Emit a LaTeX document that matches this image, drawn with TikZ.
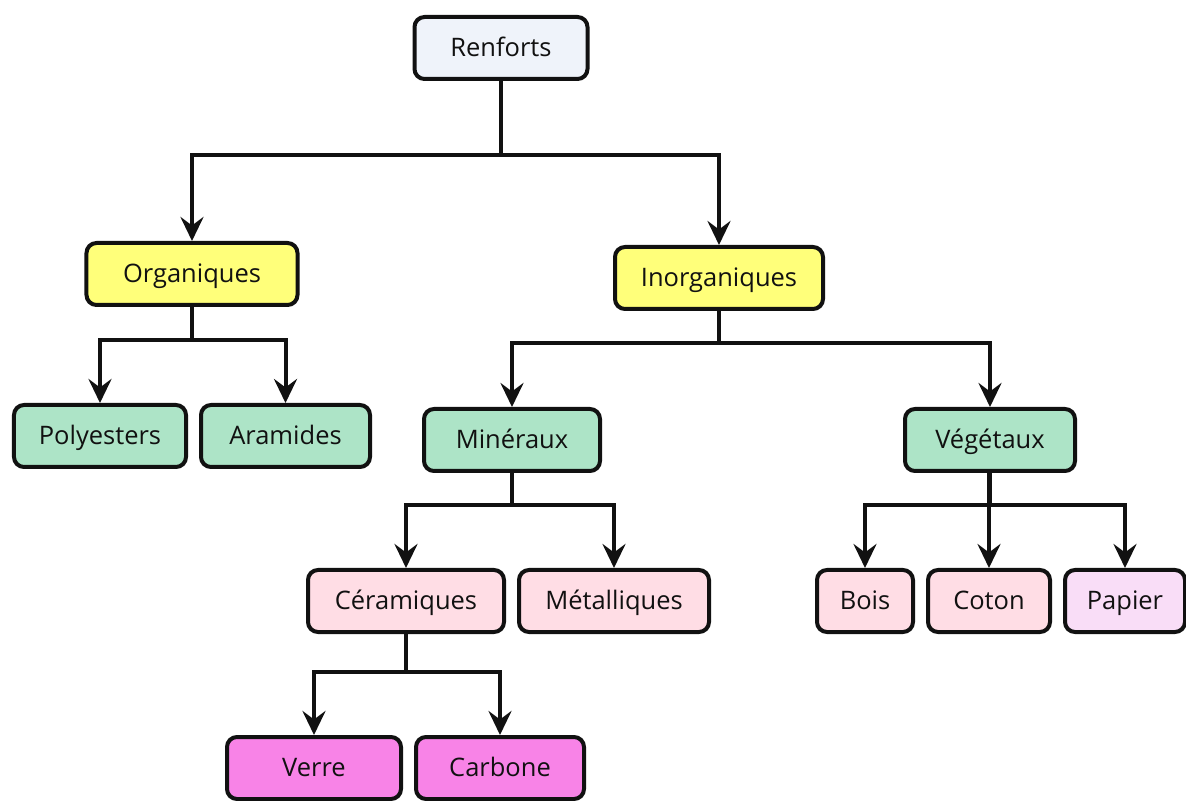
\documentclass[tikz,border=0pt]{standalone}
\usepackage{fontspec}
\setmainfont{Open Sans}
\usepackage{tikz}
\usetikzlibrary{arrows.meta,positioning}
\usepackage{xcolor}
\definecolor{Ink}{HTML}{111111}
\definecolor{Top}{HTML}{EFF3FA}
\definecolor{Yel}{HTML}{FFFF7A}
\definecolor{Grn}{HTML}{ADE4C7}
\definecolor{Pnk}{HTML}{FFDDE5}
\definecolor{Lil}{HTML}{F9DDF7}
\definecolor{Mag}{HTML}{F883E7}
\begin{document}
\begin{tikzpicture}[x=0.2mm,y=-0.2mm,node distance=2.2mm, b/.style={draw=Ink,text=Ink,line width=0.8mm,rounded corners=2mm,minimum height=12.4mm,text height=2.3ex,text depth=0.5ex,align=center,font=\fontsize{14.5}{17}\selectfont}, a/.style={-{Stealth[length=4.8mm,width=4.6mm,inset=1.7mm]},line width=0.8mm,draw=Ink}]
    \useasboundingbox (0,0) rectangle (1186,801);
    \node[b,fill=Top,minimum width=34.6mm] (r) at (501,48) {Renforts};
    \node[b,fill=Yel,minimum width=42.2mm] (o) at (192,274) {Organiques}; \node[b,fill=Yel,minimum width=41.6mm] (i) at (719,278) {Inorganiques};
    \node[b,fill=Grn,minimum width=34.4mm] (p) at (100,436) {Polyesters}; \node[b,fill=Grn,minimum width=33.8mm,right=of p] (ar) {Aramides};
    \node[b,fill=Grn,minimum width=35.2mm] (m) at (512,440) {Minéraux}; \node[b,fill=Grn,minimum width=34mm] (v) at (990,440) {Végétaux};
    \node[b,fill=Pnk,minimum width=39.2mm] (c) at (406,601) {Céramiques}; \node[b,fill=Pnk,minimum width=38mm,right=of c] (me) {Métalliques};
    \node[b,fill=Pnk,minimum width=19.2mm] (bo) at (865,601) {Bois}; \node[b,fill=Pnk,minimum width=24.4mm,right=of bo] (co) {Coton};
    \node[b,fill=Lil,minimum width=24mm,right=of co] (pa) {Papier};
    \node[b,fill=Mag,minimum width=34.8mm] (ve) at (314,768) {Verre}; \node[b,fill=Mag,minimum width=33.6mm,right=of ve] (ca) {Carbone};
    % bus heights
    \coordinate (k1) at (0,155); \coordinate (k2) at (0,340); \coordinate (k3) at (0,343);
    \coordinate (k4) at (0,505); \coordinate (k5) at (0,672);
    \draw[a](r.south)--(r.south|-k1)-|(o.north);\draw[a](r.south)--(r.south|-k1)-|(i.north);
    \draw[a](o.south)--(o.south|-k2)-|(p.north);\draw[a](o.south)--(o.south|-k2)-|(ar.north);
    \draw[a](i.south)--(i.south|-k3)-|(m.north);\draw[a](i.south)--(i.south|-k3)-|(v.north);
    \draw[a](m.south)--(m.south|-k4)-|(c.north);\draw[a](m.south)--(m.south|-k4)-|(me.north);
    \draw[a](v.south)--(v.south|-k4)-|(bo.north);\draw[a](co.north|-v.south)--(co.north);\draw[a](v.south)--(v.south|-k4)-|(pa.north);
    \draw[a](c.south)--(c.south|-k5)-|(ve.north);\draw[a](c.south)--(c.south|-k5)-|(ca.north);
  \end{tikzpicture}
\end{document}
